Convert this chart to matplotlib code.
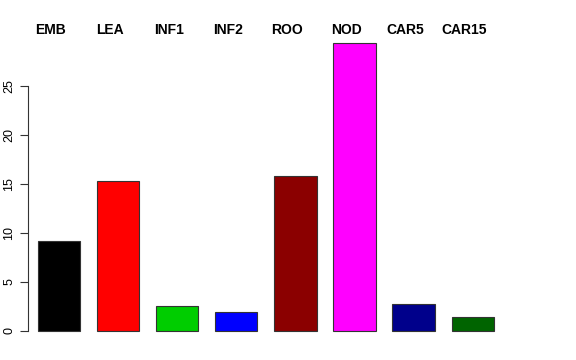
import matplotlib
matplotlib.use("Agg")
from matplotlib import pyplot as plt

# values
labels = ["EMB", "LEA", "INF1", "INF2", "ROO", "NOD", "CAR5", "CAR15"]
values = [9.15, 15.3, 2.55, 1.95, 15.8, 29.4, 2.75, 1.4]
colors = ["#000000", "#FF0000", "#00CD00", "#0000FF",
          "#8B0000", "#FF00FF", "#00008B", "#006400"]

plt.rcParams["font.family"] = ["Liberation Sans", "DejaVu Sans"]

fig = plt.figure(figsize=(5.76, 3.6), dpi=100)
ax = fig.add_axes([28 / 576, 17.5 / 360, 542.6 / 576, 311.5 / 360])

pos = [0.9 + 1.4 * i for i in range(len(values))]
ax.bar(pos, values, width=1.0, color=colors, edgecolor="#333333", linewidth=0.8)

ax.set_xlim(0.4 - 10 / 42.2, 0.4 + 532.6 / 42.2)
ymax = max(values)
ax.set_ylim(-0.04 * ymax, 1.04 * ymax)

for p, lab in zip(pos, labels):
    ax.text(p - 0.2, 1.04 * ymax + 0.1, lab, ha="center", va="center",
            fontsize=10, fontweight="bold", clip_on=False)

for s in ["top", "right", "bottom"]:
    ax.spines[s].set_visible(False)
ax.spines["left"].set_bounds(0, 25)
ax.spines["left"].set_color("#333333")
ax.set_xticks([])
ax.set_yticks([0, 5, 10, 15, 20, 25])
ax.tick_params(axis="y", length=6, width=0.8, color="#333333", labelsize=9, pad=3)
for t in ax.get_yticklabels():
    t.set_rotation(90)
    t.set_va("center")

fig.savefig("out.png", dpi=100)
